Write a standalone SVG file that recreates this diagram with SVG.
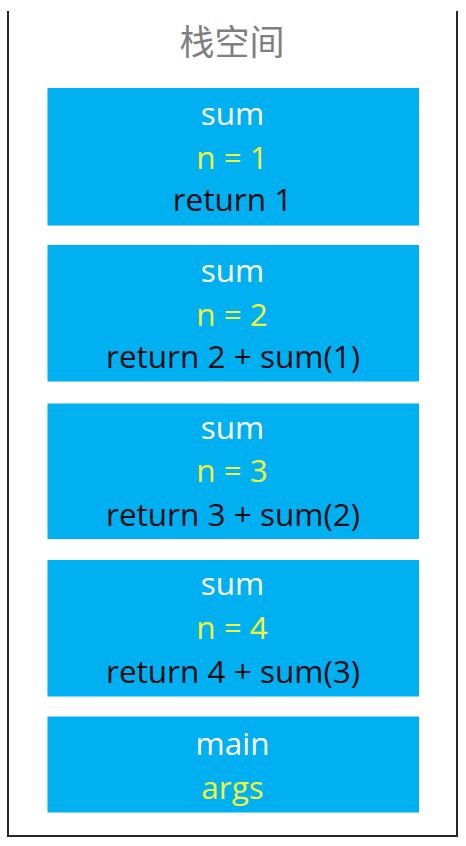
<svg xmlns="http://www.w3.org/2000/svg" width="466" height="846" viewBox="0 0 466 846">
  <style>
    .frame { fill: #00B0F0; }
    .t { font-family: "Open Sans", "Noto Sans", "Liberation Sans", sans-serif; font-size: 31.5px; text-anchor: middle; }
    .w { fill: #FFFFFF; }
    .y { fill: #F2F53A; }
    .k { fill: #0D0D14; }
    .title { font-family: "Noto Sans CJK SC", "Noto Sans", sans-serif; font-size: 35px; fill: #7F7F7F; text-anchor: middle; }
  </style>
  <rect x="0" y="0" width="466" height="846" fill="#FFFFFF"/>
  <g id="stack">
    <path d="M8,11 V836 H457 V11" fill="none" stroke="#262626" stroke-width="2"/>
    <text class="title" x="232" y="55">栈空间</text>
  </g>
  <g id="frame-sum1">
    <rect class="frame" x="47.5" y="88" width="371.5" height="137.5"/>
    <text class="t w" x="232.5" y="125">sum</text>
    <text class="t y" x="232" y="168.5">n = 1</text>
    <text class="t k" x="232.5" y="210.5">return 1</text>
  </g>
  <g id="frame-sum2">
    <rect class="frame" x="47.5" y="245" width="371.5" height="136.5"/>
    <text class="t w" x="232.5" y="281.5">sum</text>
    <text class="t y" x="232" y="326">n = 2</text>
    <text class="t k" x="233" y="367.5">return 2 + sum(1)</text>
  </g>
  <g id="frame-sum3">
    <rect class="frame" x="47.5" y="403.5" width="371.5" height="135.5"/>
    <text class="t w" x="232.5" y="438.5">sum</text>
    <text class="t y" x="232" y="482">n = 3</text>
    <text class="t k" x="233" y="525.5">return 3 + sum(2)</text>
  </g>
  <g id="frame-sum4">
    <rect class="frame" x="47.5" y="560" width="371.5" height="136.5"/>
    <text class="t w" x="232.5" y="595">sum</text>
    <text class="t y" x="232" y="639">n = 4</text>
    <text class="t k" x="233" y="683">return 4 + sum(3)</text>
  </g>
  <g id="frame-main">
    <rect class="frame" x="47.5" y="716.5" width="371.5" height="96"/>
    <text class="t w" x="232.5" y="755">main</text>
    <text class="t y" x="232.5" y="798.5">args</text>
  </g>
  <g id="connectors"/>
</svg>
